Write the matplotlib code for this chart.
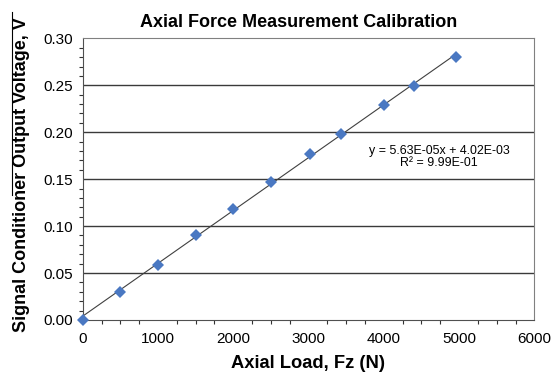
import numpy as np
import matplotlib
matplotlib.use("Agg")
import matplotlib.pyplot as plt
from matplotlib.ticker import MultipleLocator, FormatStrFormatter
from matplotlib.lines import Line2D

plt.rcParams['font.family'] = ['Liberation Sans', 'DejaVu Sans']

# calibration data
load_n = [0, 500, 1000, 1500, 2000, 2500, 3020, 3430, 4000, 4400, 4960]
voltage_v = [0.000, 0.030, 0.059, 0.090, 0.118, 0.147, 0.177, 0.198, 0.229, 0.249, 0.280]

# trendline as printed on the chart
slope = 5.63e-05
intercept = 4.02e-03
fit_text = "y = 5.63E-05x + 4.02E-03\nR² = 9.99E-01"

W, H = 552, 376
fig = plt.figure(figsize=(W / 100, H / 100), dpi=100)
ax = fig.add_axes([0.1498, 0.149, 0.8183, 0.749])

# horizontal gridlines
for g in np.arange(0.05, 0.30, 0.05):
    ax.axhline(g, color='#3a3a3a', lw=1.0, zorder=1)

xfit = np.array([0, max(load_n)])
ax.plot(xfit, slope * xfit + intercept, color='#404040', lw=0.8, zorder=2)
ax.plot(load_n, voltage_v, 'D', color='#4a78c2', markersize=6.5, markeredgewidth=0,
        zorder=3, clip_on=False)

ax.set_xlim(0, 6000)
ax.set_ylim(0, 0.30)
ax.xaxis.set_major_locator(MultipleLocator(1000))
ax.xaxis.set_minor_locator(MultipleLocator(250))
ax.yaxis.set_major_locator(MultipleLocator(0.05))
ax.yaxis.set_minor_locator(MultipleLocator(0.01))
ax.yaxis.set_major_formatter(FormatStrFormatter('%.2f'))
ax.tick_params(which='both', direction='out', labelsize=11, colors='#333333', labelcolor='black')
ax.tick_params(which='major', length=0)
ax.tick_params(axis='y', which='major', pad=7)
ax.tick_params(axis='x', which='major', pad=9)
ax.tick_params(which='minor', length=3, width=0.8)

for side in ['top', 'right']:
    ax.spines[side].set_color('#808080')
for side in ['left', 'bottom']:
    ax.spines[side].set_color('#505050')

fig.text(299 / W, 1 - 27 / H, "Axial Force Measurement Calibration",
         ha='center', va='baseline', fontsize=13, fontweight='bold')
ax.set_xlabel("Axial Load, Fz (N)", fontsize=13.2, fontweight='bold', va='baseline')
ax.xaxis.set_label_coords((307.5 - 82.7) / 451.6, (320 - 368) / 281.7)
ax.set_ylabel("Signal Conditioner Output Voltage, V", fontsize=13, fontweight='bold')
ax.yaxis.set_label_coords((30 - 82.7) / 451.6, (320 - 175) / 281.7)

ax.text(4734, 0.174, fit_text, ha='center', va='center', fontsize=8.9, linespacing=1.0)

# stray rule over the y label in the original
fig.add_artist(Line2D([12 / W, 12 / W], [1 - 12 / H, 1 - 195 / H],
                      color='black', lw=0.8, transform=fig.transFigure))

fig.savefig("out.png", dpi=100)
